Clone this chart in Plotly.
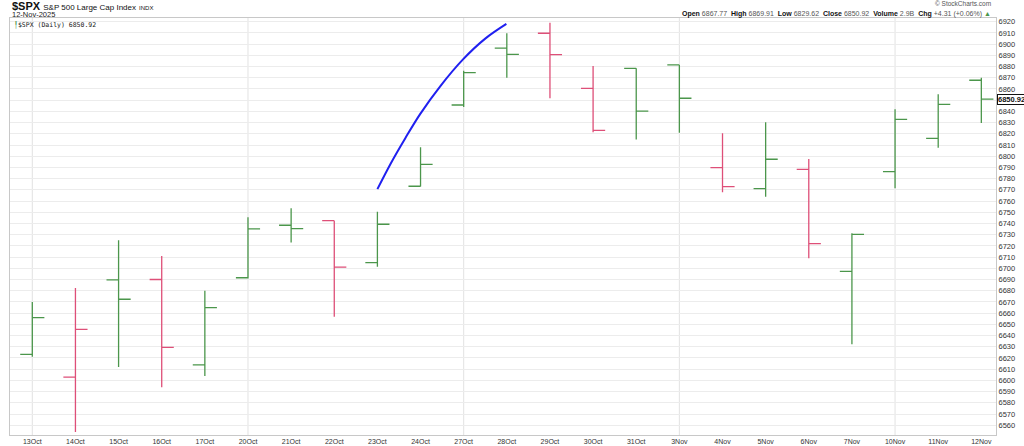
import plotly.graph_objects as go
from datetime import date

# ---------------- data ----------------
dates = ["2025-10-13", "2025-10-14", "2025-10-15", "2025-10-16", "2025-10-17",
         "2025-10-20", "2025-10-21", "2025-10-22", "2025-10-23", "2025-10-24",
         "2025-10-27", "2025-10-28", "2025-10-29", "2025-10-30", "2025-10-31",
         "2025-11-03", "2025-11-04", "2025-11-05", "2025-11-06", "2025-11-07",
         "2025-11-10", "2025-11-11", "2025-11-12"]
tick_labels = ["13Oct", "14Oct", "15Oct", "16Oct", "17Oct", "20Oct", "21Oct", "22Oct",
               "23Oct", "24Oct", "27Oct", "28Oct", "29Oct", "30Oct", "31Oct", "3Nov",
               "4Nov", "5Nov", "6Nov", "7Nov", "10Nov", "11Nov", "12Nov"]
opens = [6623.3, 6603.0, 6689.6, 6690.0, 6613.8, 6691.6, 6738.4, 6742.5, 6705.0, 6773.2,
         6845.7, 6896.5, 6909.7, 6860.6, 6878.4, 6881.4, 6789.8, 6771.0, 6788.3, 6697.3,
         6786.2, 6816.0, 6867.77]
highs = [6670.0, 6682.4, 6725.0, 6711.0, 6680.0, 6745.5, 6753.5, 6742.5, 6750.5, 6808.0,
         6876.3, 6909.7, 6919.0, 6880.5, 6878.4, 6881.4, 6820.4, 6830.3, 6797.5, 6731.2,
         6841.9, 6855.2, 6869.91]
lows = [6621.0, 6554.0, 6612.0, 6594.0, 6604.0, 6691.0, 6723.0, 6656.8, 6701.4, 6773.0,
        6844.0, 6870.0, 6851.7, 6821.3, 6815.0, 6821.0, 6767.8, 6763.9, 6708.9, 6632.2,
        6771.4, 6807.6, 6829.62]
closes = [6656.0, 6645.6, 6672.4, 6629.5, 6665.0, 6735.1, 6735.4, 6701.0, 6739.3, 6792.8,
          6874.5, 6890.9, 6890.6, 6823.0, 6840.3, 6851.7, 6772.8, 6797.3, 6722.0, 6730.3,
          6832.9, 6846.3, 6850.92]
prior_close = 6552.5

# hand-drawn arc annotation (trading-day index, price)
arc_x = [8.0, 8.30, 8.65, 8.99, 9.46, 9.99, 10.50, 10.99]
arc_y = [6770.6, 6792.9, 6816.3, 6837.6, 6862.6, 6886.6, 6904.9, 6918.0]

y_ticks = list(range(6560, 6921, 10))

GREEN = "#4b964b"
RED = "#de4f78"
FONT = "Liberation Sans"

idx = list(range(len(dates)))
prev = [prior_close] + closes[:-1]
up = [c >= p for c, p in zip(closes, prev)]
mondays = [i for i, d in enumerate(dates) if date.fromisoformat(d).weekday() == 0]
# the last-price tag covers the nearest grid label
hidden_tick = min(y_ticks, key=lambda v: abs(v - closes[-1]))
y_text = ["" if v == hidden_tick else str(v) for v in y_ticks]

fig = go.Figure()
for is_up, col in ((True, GREEN), (False, RED)):
    sel = [i for i in idx if up[i] == is_up]
    fig.add_trace(go.Ohlc(
        x=sel,
        open=[opens[i] for i in sel], high=[highs[i] for i in sel],
        low=[lows[i] for i in sel], close=[closes[i] for i in sel],
        increasing=dict(line=dict(color=col, width=1.3)),
        decreasing=dict(line=dict(color=col, width=1.3)),
        tickwidth=0.28, hoverinfo="skip", showlegend=False,
    ))

fig.add_trace(go.Scatter(x=arc_x, y=arc_y, mode="lines", line=dict(color="#2020f0", width=2, shape="spline"),
                         hoverinfo="skip", showlegend=False))

for m in mondays:
    fig.add_shape(type="line", xref="x", yref="paper", x0=m, x1=m, y0=0, y1=1,
                  line=dict(color="#e2e2e2", width=1), layer="below")

fig.update_layout(
    width=1024, height=446,
    margin=dict(l=10, r=28, t=18, b=11, autoexpand=False),
    paper_bgcolor="white", plot_bgcolor="white",
    font=dict(family=FONT, size=7.5, color="#333"),
    xaxis=dict(range=[-0.517, 22.34], tickvals=idx, ticktext=tick_labels, showgrid=False,
               zeroline=False, showline=True, mirror=True, linecolor="#c8c8c8", linewidth=1,
               ticks="", ticklen=0, tickfont=dict(size=7, color="#333"),
               rangeslider=dict(visible=False), automargin=False, fixedrange=True),
    yaxis=dict(range=[6551.3, 6923.3], side="right", tickvals=y_ticks,
               ticktext=y_text, showgrid=True, gridcolor="#ececec",
               gridwidth=1, zeroline=False, showline=True, mirror=True, linecolor="#c8c8c8",
               ticks="", ticklen=0, automargin=False,
               tickfont=dict(size=7.5, color="#333"), fixedrange=True),
)

anns = [
    dict(x=0, y=1.0288, xref="paper", yref="paper", xanchor="left", yanchor="middle",
         text="<b>$SPX</b> <span style='font-size:8px'>S&amp;P 500 Large Cap Index</span> "
              "<span style='font-size:6px'>INDX</span>",
         font=dict(size=11, color="#111", family=FONT), showarrow=False),
    dict(x=0, y=1.0079, xref="paper", yref="paper", xanchor="left", yanchor="middle",
         text="12-Nov-2025", font=dict(size=7.5, color="#222", family=FONT), showarrow=False),
    dict(x=0.002, y=0.9856, xref="paper", yref="paper", xanchor="left", yanchor="middle",
         text="<span style='color:%s'>╿</span>$SPX (Daily) %.2f" % (GREEN, closes[-1]),
         font=dict(size=6.5, color="#222", family="DejaVu Sans Mono"), showarrow=False),
    dict(x=0.997, y=1.035, xref="paper", yref="paper", xanchor="right", yanchor="middle",
         text="© StockCharts.com", font=dict(size=6.5, color="#555", family=FONT), showarrow=False),
    dict(x=0.997, y=1.0089, xref="paper", yref="paper", xanchor="right", yanchor="middle",
         text=("<b>Open</b> <span style='color:#555'>%.2f</span>  <b>High</b> <span style='color:#555'>%.2f</span>  "
               "<b>Low</b> <span style='color:#555'>%.2f</span>  <b>Close</b> <span style='color:#555'>%.2f</span>  "
               "<b>Volume</b> <span style='color:#555'>2.9B</span>  <b>Chg</b> <span style='color:#555'>+4.31 (+0.06%%)</span> "
               "<span style='color:%s'>▲</span>")
              % (opens[-1], highs[-1], lows[-1], closes[-1], GREEN),
         font=dict(size=7, color="#111", family=FONT), showarrow=False),
    dict(x=1, y=closes[-1], xref="paper", yref="y", xanchor="left", yanchor="middle", xshift=1,
         text="<b>%.2f</b>" % closes[-1], font=dict(size=7.5, color="#111", family=FONT),
         bgcolor="white", bordercolor="#111", borderwidth=1, borderpad=0, showarrow=False),
]
fig.update_layout(annotations=anns)

fig.write_html("out.html", config={"displayModeBar": False},
               post_script="document.body.style.margin='0';")
